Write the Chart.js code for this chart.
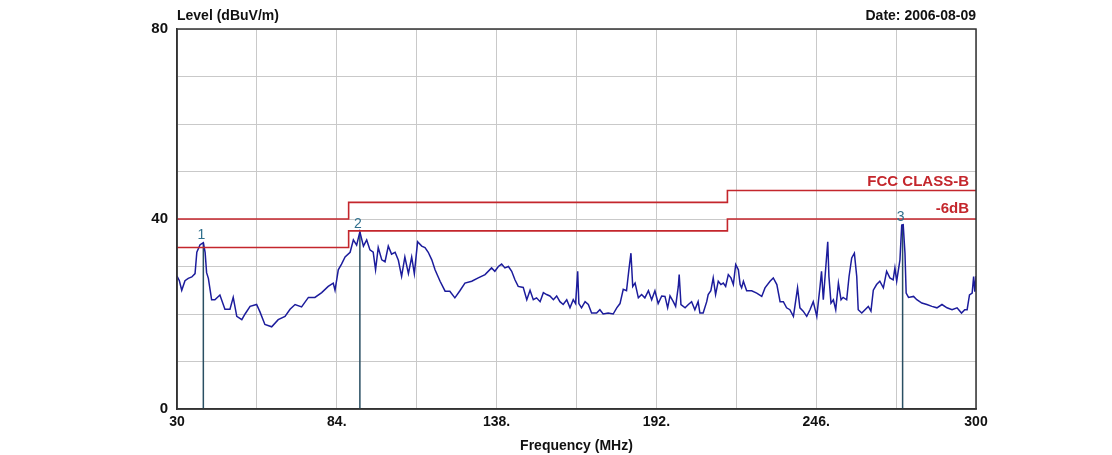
<!DOCTYPE html>
<html>
<head>
<meta charset="utf-8">
<script src="https://cdn.jsdelivr.net/npm/chart.js@4/dist/chart.umd.min.js"></script>
<style>
  html, body { margin: 0; padding: 0; background: #fff; }
  #wrap { width: 1112px; height: 455px; }
</style>
</head>
<body>
<div id="wrap"><canvas id="emiChart" width="1112" height="455"></canvas></div>
<script>
// Measured trace (MHz / dBuV/m)
const freqs = [
  30.0, 30.8, 31.6, 32.7, 33.8, 35.0, 36.1, 36.7, 37.8, 38.9, 39.5, 40.0, 40.6, 41.7, 42.8, 44.5,
  46.2, 47.9, 49.0, 50.2, 51.9, 53.0, 54.7, 56.9, 58.0, 59.7, 62.0, 64.2, 66.5, 68.2, 69.9, 72.1,
  74.4, 76.6, 78.9, 81.1, 82.8, 83.4, 84.5, 85.6, 86.8, 88.5, 89.6, 90.7, 91.8, 93.0, 94.1, 95.2,
  96.3, 97.1, 98.0, 99.2, 100.3, 101.4, 102.5, 103.7, 104.8, 105.9, 107.0, 108.2, 109.3, 110.2,
  111.3, 112.7, 113.8, 114.9, 116.1, 117.2, 118.9, 120.6, 122.2, 123.9, 125.6, 127.3, 129.6, 131.8,
  134.1, 136.3, 137.4, 138.6, 139.7, 140.8, 142.0, 143.1, 144.2, 145.3, 147.0, 148.2, 149.3, 150.4,
  151.5, 152.7, 153.8, 154.9, 156.0, 157.2, 158.3, 159.4, 160.5, 161.7, 162.8, 163.9, 164.7, 165.4,
  165.8, 166.7, 167.9, 169.0, 170.1, 171.8, 172.9, 174.0, 175.7, 177.4, 178.6, 179.7, 180.8, 181.9,
  182.7, 183.4, 184.0, 184.8, 185.9, 187.0, 188.1, 189.3, 190.4, 191.5, 192.6, 193.8, 194.9, 195.8,
  196.6, 197.7, 198.5, 199.4, 199.7, 200.3, 201.7, 202.8, 203.9, 205.0, 206.1, 206.7, 207.8, 209.0,
  209.5, 210.4, 211.2, 212.0, 212.9, 213.8, 214.6, 215.4, 216.3, 217.2, 218.0, 218.8, 219.7, 220.3,
  220.8, 221.4, 222.5, 224.2, 225.9, 227.6, 228.7, 230.4, 231.5, 232.7, 233.8, 234.9, 236.0, 237.1,
  238.3, 238.8, 239.7, 240.5, 241.6, 242.8, 243.9, 245.0, 246.2, 247.3, 247.8, 248.4, 249.0, 249.9,
  250.3, 251.0, 251.8, 252.6, 253.5, 254.4, 255.1, 256.3, 257.1, 258.0, 258.9, 259.7, 260.2, 261.4,
  262.5, 263.6, 264.5, 265.3, 266.4, 267.5, 268.7, 269.8, 270.9, 272.0, 272.6, 273.2, 274.3, 274.9,
  275.4, 276.0, 276.4, 277.2, 278.9, 280.0, 281.7, 283.4, 285.1, 286.8, 288.5, 290.2, 291.9, 293.6,
  295.1, 296.2, 297.0, 297.8, 298.7, 299.2, 299.6, 300.0
];
const levels = [
  28, 27, 25, 27, 27.5, 27.8, 28.5, 33, 34.6, 35, 33, 28.7, 27.5, 23, 23, 24,
  21, 21, 23.5, 19.5, 18.8, 20, 21.6, 22, 20.5, 17.8, 17.3, 18.8, 19.5, 21, 22, 21.5,
  23.5, 23.5, 24.5, 25.8, 26.5, 25, 29.3, 30.5, 32, 33, 35.6, 34.5, 37.3, 34.3, 35.6, 33.5,
  33, 29.3, 34, 31.4, 31, 34.3, 32.6, 33, 31.3, 27.9, 32, 28.5, 32, 28.5,
  35.2, 34.3, 34, 33, 31.4, 29.3, 26.9, 24.8, 24.8, 23.4, 24.9, 26.5, 26.9, 27.6,
  28.3, 29.7, 29, 30, 30.5, 29.7, 30, 29, 27.2, 25.8, 25.6, 23, 25, 23,
  23.4, 22.6, 24.5, 24.1, 23.8, 23, 23.8, 22.6, 22, 23, 21.3, 23, 22.2, 29,
  22.2, 21.3, 22.6, 22, 20.2, 20.2, 20.9, 20, 20.2, 20, 21.3, 22.2, 25.2, 24.9,
  29.3, 32.8, 25.8, 26.5, 23.4, 24.1, 23.4, 24.9, 23, 24.9, 22.2, 23.8, 23.7, 21.3,
  23.8, 22.6, 21.6, 25.8, 28.3, 22, 21.3, 22, 22.6, 20.9, 22.6, 20.2, 20.2, 22.6,
  24.1, 24.9, 27.6, 24.1, 26.9, 26.2, 26.5, 25.8, 28.3, 27.6, 26.2, 30.4, 29.3, 26.2,
  25.5, 26.9, 24.9, 24.9, 24.4, 23.7, 25.5, 26.9, 27.6, 26.2, 22.6, 22.6, 21.3, 20.9,
  19.5, 21.6, 25.5, 21.3, 20.6, 19.5, 20.9, 22.6, 19.5, 25.8, 29, 23, 27.9, 35.2,
  27.9, 22.3, 23, 20.9, 26.5, 23, 23.5, 23, 27.9, 31.8, 32.8, 27.9, 20.9, 20.2,
  20.9, 21.6, 20.6, 25, 26.2, 26.9, 25.5, 29, 27.6, 27.2, 29.7, 26.9, 31.4, 38.7,
  38.8, 32.8, 24.4, 23.5, 23.7, 23, 22.3, 22, 21.6, 21.3, 22, 21.3, 20.9, 21.3,
  20.2, 20.9, 20.9, 24, 24.4, 27.9, 24.7, 28
];

// FCC class B limit steps and the -6dB line
const limitFreqs = [30, 88, 216, 300];
const fccLimit = [40, 43.5, 46, 46];
const marginLimit = [34, 37.5, 40, 40];

// Peak markers
const markerFreqs = [38.9, 91.8, 275.2];
const markerLevels = [35, 37.3, 38.8];
const markerNames = ['1', '2', '3'];

// Axis tick labels
const xTickValues = [30, 84, 138, 192, 246, 300];
const xTickLabels = ['30', '84.', '138.', '192.', '246.', '300'];
const yTickValues = [0, 40, 80];

const FONT = '"Liberation Sans", Arial, sans-serif';
const RED = '#c4262c';

const traceData = freqs.map((f, i) => ({ x: f, y: levels[i] }));
const fccData = limitFreqs.map((f, i) => ({ x: f, y: fccLimit[i] }));
const marginData = limitFreqs.map((f, i) => ({ x: f, y: marginLimit[i] }));

const markerSets = markerFreqs.map((f, i) => ({
  data: [{ x: f, y: markerLevels[i] }, { x: f, y: 0 }],
  borderColor: '#2a4f63',
  borderWidth: 1.5,
  pointRadius: 0,
  order: 3
}));

// Dark frame round the plot area
const framePlugin = {
  id: 'frame',
  afterDatasetsDraw(chart) {
    const c = chart.ctx;
    const a = chart.chartArea;
    c.save();
    c.strokeStyle = '#333';
    c.lineWidth = 1.5;
    c.strokeRect(a.left, a.top, a.right - a.left, a.bottom - a.top);
    c.restore();
  }
};

// Texts that sit round the plot
const textPlugin = {
  id: 'texts',
  afterDraw(chart) {
    const c = chart.ctx;
    const area = chart.chartArea;
    const ys = chart.scales.y;
    const xs = chart.scales.x;
    c.save();
    c.fillStyle = '#111';
    c.font = 'bold 14px ' + FONT;
    c.textBaseline = 'alphabetic';
    c.textAlign = 'left';
    c.fillText('Level (dBuV/m)', area.left, 20);
    c.textAlign = 'right';
    c.fillText('Date: 2006-08-09', area.right, 20);

    c.fillStyle = RED;
    c.font = 'bold 15px ' + FONT;
    c.fillText('FCC CLASS-B', area.right - 7, ys.getPixelForValue(fccLimit[fccLimit.length - 1]) - 5);
    c.fillText('-6dB', area.right - 7, ys.getPixelForValue(marginLimit[marginLimit.length - 1]) - 6);

    c.fillStyle = '#2f6f8c';
    c.font = '14px ' + FONT;
    c.textAlign = 'center';
    markerFreqs.forEach((f, i) => {
      c.fillText(markerNames[i], xs.getPixelForValue(f) - 2, ys.getPixelForValue(markerLevels[i]) - 4);
    });
    c.restore();
  }
};

const ctx = document.getElementById('emiChart').getContext('2d');

new Chart(ctx, {
  type: 'line',
  data: {
    datasets: [
      {
        data: traceData,
        borderColor: '#1c1c9c',
        borderWidth: 1.5,
        pointRadius: 0,
        tension: 0,
        order: 2
      },
      {
        data: fccData,
        borderColor: RED,
        borderWidth: 1.6,
        pointRadius: 0,
        stepped: 'before',
        order: 1
      },
      {
        data: marginData,
        borderColor: RED,
        borderWidth: 1.6,
        pointRadius: 0,
        stepped: 'before',
        order: 1
      },
      ...markerSets
    ]
  },
  options: {
    responsive: false,
    animation: false,
    layout: { padding: { left: 0, right: 136, top: 29, bottom: 0 } },
    plugins: {
      legend: { display: false },
      tooltip: { enabled: false }
    },
    scales: {
      x: {
        type: 'linear',
        min: 30,
        max: 300,
        afterBuildTicks: (scale) => {
          const t = [];
          for (let v = 30; v <= 300; v += 27) t.push({ value: v });
          scale.ticks = t;
        },
        afterFit: (scale) => { scale.height = 46; },
        grid: { color: '#c9c9c9', lineWidth: 1, tickLength: 0 },
        border: { color: '#333', width: 1.5 },
        ticks: {
          autoSkip: false,
          maxRotation: 0,
          padding: 5,
          color: '#111',
          font: { family: FONT, size: 14, weight: 'bold' },
          callback: function (value) {
            const i = xTickValues.indexOf(value);
            return i >= 0 ? xTickLabels[i] : '';
          }
        },
        title: {
          display: true,
          text: 'Frequency (MHz)',
          color: '#111',
          padding: { top: 0, bottom: 0 },
          font: { family: FONT, size: 14, weight: 'bold' }
        }
      },
      y: {
        min: 0,
        max: 80,
        afterBuildTicks: (scale) => {
          const t = [];
          for (let v = 0; v <= 80; v += 10) t.push({ value: v });
          scale.ticks = t;
        },
        afterFit: (scale) => { scale.width = 177; },
        grid: { color: '#c9c9c9', lineWidth: 1, tickLength: 0 },
        border: { color: '#333', width: 1.5 },
        ticks: {
          autoSkip: false,
          padding: 9,
          color: '#111',
          font: { family: FONT, size: 15, weight: 'bold' },
          callback: function (value) {
            return yTickValues.includes(value) ? String(value) : '';
          }
        }
      }
    }
  },
  plugins: [framePlugin, textPlugin]
});
</script>
</body>
</html>
